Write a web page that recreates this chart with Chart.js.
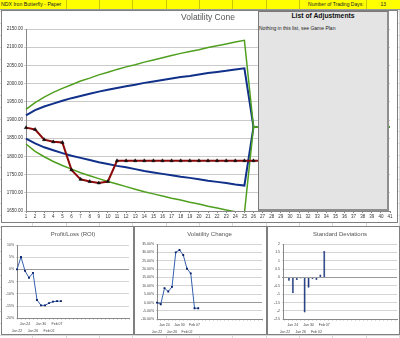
<!DOCTYPE html>
<html>
<head>
<meta charset="utf-8">
<script src="https://cdn.jsdelivr.net/npm/chart.js@4.4.0/dist/chart.umd.min.js"></script>
<style>
  body {
    margin: 0; width: 400px; height: 338px; overflow: hidden; position: relative;
    font-family: 'Liberation Sans', Arial, sans-serif;
    background-color: #fff;
    background-image:
      repeating-linear-gradient(to right, transparent 0 32.33px, #d9d9d9 32.33px 33.33px),
      repeating-linear-gradient(to bottom, transparent 0 11px, #d9d9d9 11px 12px);
  }
  .topRow { position: absolute; left: 0; top: 0; width: 400px; height: 9px; display: flex; background: #ffff00; border-bottom: 1px solid #9a9a9a; }
  .cell { height: 9px; box-sizing: border-box; border-right: 1px solid #c9c900; font-size: 5.2px; line-height: 9px; color: #222; white-space: nowrap; overflow: hidden; }
  .frame { position: absolute; background: #fff; border: 1px solid #7f7f7f; box-sizing: border-box; }
  canvas { position: absolute; }
  #adjustBox { position: absolute; left: 258px; top: 11px; width: 131px; height: 200px; box-sizing: border-box; background: #e4e4e4;
    border: 1px solid #7a7a7a; border-right: 2px solid #8f8f8f; border-bottom: 2px solid #8f8f8f; }
  #adjustBox .head { position: absolute; left: 0; top: 0; width: 100%; text-align: center; font-weight: bold; font-size: 6.8px; line-height: 8px; color: #111; }
  #adjustBox .note { position: absolute; left: 0; top: 13px; font-size: 5px; line-height: 6px; color: #222; white-space: nowrap; }
</style>
</head>
<body>

<div class="topRow">
  <div class="cell" style="width:66.67px;padding-left:1px">NDX Iron Butterfly - Paper</div>
  <div class="cell" style="width:33.33px"></div>
  <div class="cell" style="width:33.33px"></div>
  <div class="cell" style="width:33.33px"></div>
  <div class="cell" style="width:33.33px"></div>
  <div class="cell" style="width:33.33px"></div>
  <div class="cell" style="width:33.33px"></div>
  <div class="cell" style="width:33.34px"></div>
  <div class="cell" style="width:66.67px;text-align:right;padding-right:2px;font-size:5px">Number of Trading Days:</div>
  <div class="cell" style="width:33.33px;text-align:center;font-size:5px;border-right:none">13</div>
</div>

<div class="frame" style="left:1px;top:10px;width:397px;height:213px"></div>
<canvas id="coneChart" width="396" height="212" style="left:2px;top:10px;width:396px;height:212px"></canvas>

<div id="adjustBox">
  <div class="head">List of Adjustments</div>
  <div class="note">Nothing in this list, see Game Plan</div>
</div>

<div class="frame" style="left:1px;top:226px;width:133px;height:109px"></div>
<canvas id="roiChart" width="131" height="108" style="left:2px;top:226px;width:131px;height:108px"></canvas>

<div class="frame" style="left:134px;top:226px;width:133px;height:109px"></div>
<canvas id="volChart" width="131" height="108" style="left:135px;top:226px;width:131px;height:108px"></canvas>

<div class="frame" style="left:267px;top:226px;width:133px;height:109px"></div>
<canvas id="sdChart" width="131" height="108" style="left:268px;top:226px;width:131px;height:108px"></canvas>

<script>
// Volatility cone: day numbers on the x axis
const dayNumbers = [1, 2, 3, 4, 5, 6, 7, 8, 9, 10, 11, 12, 13, 14, 15, 16, 17, 18, 19, 20,
    21, 22, 23, 24, 25, 26, 27, 28, 29, 30, 31, 32, 33, 34, 35, 36, 37, 38, 39, 40, 41];

// NDX close (flat after the last trading day)
const ndxClose = [1879, 1874, 1846, 1840, 1838, 1763, 1737, 1731, 1727, 1731, 1788, 1788, 1788,
    1788, 1788, 1788, 1788, 1788, 1788, 1788, 1788, 1788, 1788, 1788, 1788, 1788, 1788, 1788, 1788, 1788];

// cone bands
const upperGreen = [1929, 1948, 1963, 1976, 1987, 1997, 2007, 2015, 2024, 2031, 2039, 2046, 2052, 2059, 2065,
    2071, 2077, 2083, 2088, 2093, 2099, 2104, 2109, 2114, 2119,
    1881, 1881, 1881, 1881, 1881, 1881, 1881, 1881, 1881, 1881, 1881, 1881, 1881, 1881, 1881, 1881];
const upperBlue = [1913, 1927, 1937, 1945, 1953, 1960, 1966, 1972, 1978, 1983, 1988, 1993, 1997, 2002, 2006,
    2010, 2014, 2018, 2021, 2025, 2029, 2032, 2035, 2039, 2042,
    1881, 1881, 1881, 1881, 1881, 1881, 1881, 1881, 1881, 1881, 1881, 1881, 1881, 1881, 1881, 1881];
const lowerBlue = [1849, 1836, 1825, 1817, 1809, 1802, 1796, 1790, 1784, 1779, 1774, 1770, 1765, 1760, 1756,
    1752, 1748, 1744, 1741, 1737, 1733, 1730, 1727, 1723, 1720,
    1881, 1881, 1881, 1881, 1881, 1881, 1881, 1881, 1881, 1881, 1881, 1881, 1881, 1881, 1881, 1881];
const lowerGreen = [1834, 1814, 1799, 1786, 1775, 1765, 1755, 1747, 1739, 1731, 1724, 1717, 1710, 1703, 1697,
    1691, 1685, 1680, 1674, 1669, 1663, 1658, 1653, 1648, 1644,
    1881, 1881, 1881, 1881, 1881, 1881, 1881, 1881, 1881, 1881, 1881, 1881, 1881, 1881, 1881, 1881];

// Small charts: date labels (blank = no label shown)
const dateLabels = ['Jan 22', '', 'Jan 24', '', 'Jan 26', '', 'Jan 30', '', 'Feb 02', '', 'Feb 07', ''];
const roiPct = [0, 5.1, -0.6, -3.4, -1.4, -12.5, -14.7, -14.7, -13.8, -13.2, -13, -13];
const volChangePct = [0, -1, 8.6, 6.6, 9.4, 30, 31.4, 28.4, 20.2, 17.4, -3.4, -3.4];
const stdDevs = [0, -0.2, -0.95, -0.15, -0.06, -2.1, -0.62, -0.1, -0.15, 0.18, 1.58, 0];
const slotCount = 29; // axis runs well past the data

const FONT = "'Liberation Sans', Arial, sans-serif";

// Volatility cone chart (first dataset is drawn on top)
new Chart(document.getElementById('coneChart'), {
    type: 'line',
    data: {
        labels: dayNumbers,
        datasets: [
            { data: ndxClose, borderColor: '#8b0a0a', borderWidth: 2, pointStyle: 'triangle', pointRadius: 2,
              pointBackgroundColor: '#111', pointBorderColor: '#111', pointBorderWidth: 0.5 },
            { data: upperGreen, borderColor: '#4f9f1f', borderWidth: 1.5, pointRadius: 0 },
            { data: lowerGreen, borderColor: '#4f9f1f', borderWidth: 1.5, pointRadius: 0 },
            { data: upperBlue, borderColor: '#10308a', borderWidth: 2, pointRadius: 0 },
            { data: lowerBlue, borderColor: '#10308a', borderWidth: 2, pointRadius: 0 }
        ]
    },
    options: {
        responsive: false, animation: false, events: [],
        elements: { line: { tension: 0 } },
        layout: { padding: { top: 0, right: 8, bottom: 0, left: 0 } },
        plugins: {
            legend: { display: false },
            tooltip: { enabled: false },
            title: {
                display: true, text: 'Volatility Cone', fullSize: false, color: '#555',
                font: { size: 8.5, weight: 'normal', family: FONT },
                padding: { top: 2.4, bottom: 6.4 }
            }
        },
        scales: {
            x: {
                ticks: { autoSkip: false, maxRotation: 0, color: '#333', padding: 1, font: { size: 4.5, family: FONT } },
                grid: { drawOnChartArea: false, tickLength: 2, color: '#888' },
                border: { color: '#888' },
                afterFit: s => { s.height = 11; }
            },
            y: {
                min: 1650, max: 2150,
                ticks: { stepSize: 50, color: '#333', padding: 1, font: { size: 4.5, family: FONT },
                         callback: v => v.toFixed(2) },
                grid: { color: '#cacaca', tickLength: 2 },
                border: { color: '#888' },
                afterFit: s => { s.width = 24; }
            }
        }
    }
});

// padded category labels for the small charts
const slotLabels = [];
for (let i = 0; i < slotCount; i++) {
    slotLabels.push(i < dateLabels.length ? dateLabels[i] : '');
}

// staggered two-row date labels
function dateTick(value, index) {
    const lab = slotLabels[index];
    if (!lab) return '';
    return (index / 2) % 2 === 0 ? ['', lab] : [lab, ''];
}

function smallChart(id, type, title, values, yMin, yMax, yStep, yFmt, yWidth, plotTop, xHeight) {
    const isBar = type === 'bar';
    const ds = isBar
        ? { data: values, backgroundColor: '#12307f', borderColor: '#0a1f5c', borderWidth: 0.5,
            barPercentage: 0.6, categoryPercentage: 0.85 }
        : { data: values, borderColor: '#3560ad', borderWidth: 1, pointStyle: 'rect', pointRadius: 1.3,
            pointBackgroundColor: '#0a1f66', pointBorderColor: '#0a1f66', pointBorderWidth: 0 };
    new Chart(document.getElementById(id), {
        type: type,
        data: { labels: slotLabels, datasets: [ds] },
        options: {
            responsive: false, animation: false, events: [],
            elements: { line: { tension: 0 } },
            layout: { padding: { top: 0, right: 2, bottom: 0, left: 0 } },
            plugins: {
                legend: { display: false },
                tooltip: { enabled: false },
                title: {
                    display: true, text: title, fullSize: false, color: '#555',
                    font: { size: 6, weight: 'normal', family: FONT },
                    padding: { top: 4.4, bottom: plotTop - 4.4 - 7.2 }
                }
            },
            scales: {
                x: {
                    offset: isBar,
                    ticks: { autoSkip: false, maxRotation: 0, color: '#444', padding: 1.2,
                             font: { size: 3.5, lineHeight: 2, family: FONT }, callback: dateTick },
                    grid: { drawOnChartArea: false, tickLength: 1, color: '#888', offset: false },
                    border: { color: '#888' },
                    afterFit: s => { s.height = xHeight; }
                },
                y: {
                    min: yMin, max: yMax,
                    ticks: { stepSize: yStep, color: '#444', padding: 2, font: { size: 3.5, family: FONT },
                             callback: yFmt },
                    grid: { tickLength: 1, color: c => c.tick && c.tick.value === 0 ? '#9a9a9a' : '#d4d4d4' },
                    border: { color: '#888' },
                    afterFit: s => { s.width = yWidth; }
                }
            }
        }
    });
}

smallChart('roiChart', 'line', 'Profit/Loss (ROI)', roiPct, -20, 10, 5, v => v + '%', 15, 19, 15.7);
smallChart('volChart', 'line', 'Volatility Change', volChangePct, -10, 35, 5, v => v.toFixed(2) + '%', 22, 18, 14.7);
smallChart('sdChart', 'bar', 'Standard Deviations', stdDevs, -2.5, 2, 0.5, v => String(v), 15, 18, 14.7);
</script>
</body>
</html>
